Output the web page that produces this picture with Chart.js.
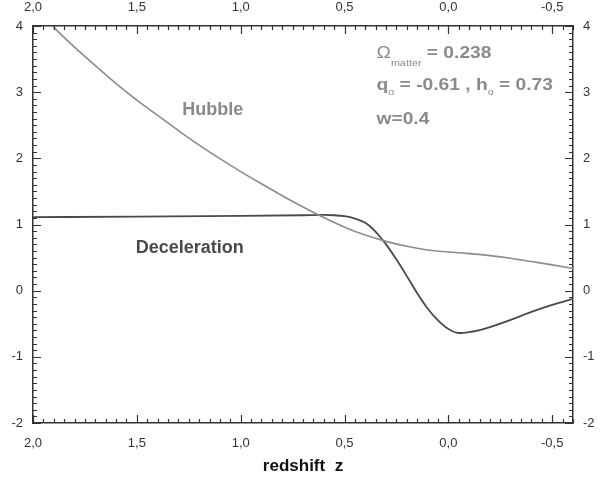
<!DOCTYPE html>
<html>
<head>
<meta charset="utf-8">
<script src="https://cdn.jsdelivr.net/npm/chart.js@4"></script>
<style>
  html, body { margin: 0; padding: 0; background: #fff; }
</style>
</head>
<body>
<canvas id="chart" width="600" height="488"></canvas>
<script>
// values
const hubbleZ = [2.0, 1.9, 1.8, 1.7, 1.6, 1.5, 1.4, 1.3, 1.2, 1.1, 1.0, 0.9, 0.8, 0.7, 0.6, 0.5, 0.4, 0.3, 0.2, 0.1, 0.0, -0.1, -0.2, -0.3, -0.4, -0.5, -0.6];
const hubbleH = [4.29, 3.98, 3.68, 3.40, 3.13, 2.88, 2.65, 2.42, 2.20, 1.995, 1.80, 1.615, 1.435, 1.265, 1.105, 0.96, 0.84, 0.745, 0.67, 0.615, 0.585, 0.56, 0.53, 0.49, 0.44, 0.39, 0.335];

const decelZ = [2.0, 1.5, 1.0, 0.7, 0.6, 0.55, 0.5, 0.45, 0.4, 0.35, 0.3, 0.25, 0.2, 0.15, 0.1, 0.05, 0.0, -0.05, -0.1, -0.15, -0.2, -0.3, -0.4, -0.5, -0.6];
const decelQ = [1.11, 1.12, 1.13, 1.14, 1.145, 1.14, 1.125, 1.09, 1.025, 0.89, 0.70, 0.47, 0.22, -0.04, -0.27, -0.45, -0.58, -0.64, -0.625, -0.595, -0.55, -0.44, -0.32, -0.215, -0.125];

const xTicks = [2.0, 1.5, 1.0, 0.5, 0.0, -0.5];
const yTicks = [-2, -1, 0, 1, 2, 3, 4];

const fmtX = v => v.toFixed(1).replace('.', ',');

// inward tick marks on all four sides
const inwardTicks = {
    id: 'inwardTicks',
    afterDraw(chart) {
        const c = chart.ctx;
        const a = chart.chartArea;
        const sx = chart.scales.x;
        const sy = chart.scales.y;
        c.save();
        c.strokeStyle = '#333';
        c.lineWidth = 1.2;
        c.beginPath();
        for (let i = -12; i <= 40; i++) {
            const px = Math.round(sx.getPixelForValue(i * 0.05)) + 0.5;
            const len = i % 10 === 0 ? 8 : 4;
            c.moveTo(px, a.bottom); c.lineTo(px, a.bottom - len);
            c.moveTo(px, a.top); c.lineTo(px, a.top + len);
        }
        for (let i = -20; i <= 40; i++) {
            const py = Math.round(sy.getPixelForValue(i * 0.1)) + 0.5;
            const len = i % 10 === 0 ? 8 : 4;
            c.moveTo(a.left, py); c.lineTo(a.left + len, py);
            c.moveTo(a.right, py); c.lineTo(a.right - len, py);
        }
        c.stroke();
        c.restore();
    }
};

// text labels inside the plot
function drawRuns(c, x, y, runs) {
    let cx = x;
    runs.forEach(r => {
        c.font = r.font;
        c.fillText(r.t, cx, y + (r.dy || 0));
        cx += c.measureText(r.t).width;
    });
}

const labels = {
    id: 'labels',
    afterDatasetsDraw(chart) {
        const c = chart.ctx;
        const sx = chart.scales.x;
        const sy = chart.scales.y;
        c.save();
        c.textBaseline = 'middle';
        c.textAlign = 'center';
        c.font = 'bold 18px "Liberation Sans", Arial, sans-serif';
        c.fillStyle = '#8a8a8a';
        c.fillText('Hubble', sx.getPixelForValue(1.135), sy.getPixelForValue(2.73));
        c.fillStyle = '#4a4a4a';
        c.fillText('Deceleration', sx.getPixelForValue(1.245), sy.getPixelForValue(0.65));

        c.textAlign = 'left';
        c.fillStyle = '#8a8a8a';
        const x0 = sx.getPixelForValue(0.346);
        const big = 'bold 16px "Liberation Sans", Arial, sans-serif';
        const sub = '9px "Liberation Sans", Arial, sans-serif';
        c.save();
        c.translate(x0, 0);
        c.scale(1.2, 1);
        drawRuns(c, 0, sy.getPixelForValue(3.59), [
            { t: 'Ω', font: '16px "Liberation Sans", Arial, sans-serif' },
            { t: 'matter', font: sub, dy: 10 },
            { t: ' = 0.238', font: big }
        ]);
        drawRuns(c, 0, sy.getPixelForValue(3.10), [
            { t: 'q', font: big },
            { t: 'o', font: sub, dy: 7 },
            { t: ' = -0.61 , h', font: big },
            { t: 'o', font: sub, dy: 7 },
            { t: ' = 0.73', font: big }
        ]);
        drawRuns(c, 0, sy.getPixelForValue(2.58), [
            { t: 'w=0.4', font: big }
        ]);
        c.restore();
        c.restore();
    }
};

const tickFont = { family: '"Liberation Sans", Arial, sans-serif', size: 13 };
const border = { display: true, color: '#333', width: 1.5 };

function xScale(pos, padding, height) {
    return {
        type: 'linear', position: pos, min: -0.6, max: 2.0, reverse: true,
        grid: { display: false, drawTicks: false },
        border: border,
        ticks: { color: '#333', font: tickFont, padding: padding, maxRotation: 0, callback: v => fmtX(v) },
        afterBuildTicks: s => { s.ticks = xTicks.map(v => ({ value: v })); },
        afterFit: s => { s.height = height; }
    };
}

function yScale(pos, width) {
    return {
        type: 'linear', position: pos, min: -2, max: 4,
        grid: { display: false, drawTicks: false },
        border: border,
        ticks: { color: '#333', font: tickFont, padding: 10 },
        afterBuildTicks: s => { s.ticks = yTicks.map(v => ({ value: v })); },
        afterFit: s => { s.width = width; }
    };
}

const xBottom = xScale('bottom', 13, 65);
xBottom.title = {
    display: true, text: 'redshift  z', color: '#111',
    font: { family: '"Liberation Sans", Arial, sans-serif', size: 17, weight: 'bold' },
    padding: { top: 0, bottom: 11 }
};

new Chart(document.getElementById('chart'), {
    type: 'line',
    data: {
        datasets: [
            {
                label: 'Hubble',
                data: hubbleZ.map((z, i) => ({ x: z, y: hubbleH[i] })),
                borderColor: '#8c8c8c', borderWidth: 1.6,
                pointRadius: 0, cubicInterpolationMode: 'monotone',
                xAxisID: 'x', yAxisID: 'y'
            },
            {
                label: 'Deceleration',
                data: decelZ.map((z, i) => ({ x: z, y: decelQ[i] })),
                borderColor: '#4a4a4a', borderWidth: 1.8,
                pointRadius: 0, cubicInterpolationMode: 'monotone',
                xAxisID: 'x', yAxisID: 'y'
            }
        ]
    },
    options: {
        responsive: false,
        animation: false,
        layout: { padding: 0 },
        plugins: { legend: { display: false }, tooltip: { enabled: false } },
        scales: {
            x: xBottom,
            x2: xScale('top', 11, 26),
            y: yScale('left', 33),
            y2: yScale('right', 27)
        }
    },
    plugins: [labels, inwardTicks]
});
</script>
</body>
</html>
